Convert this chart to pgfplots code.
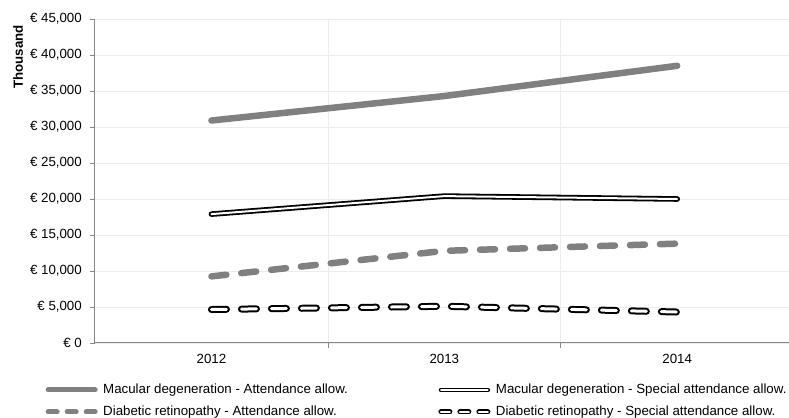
\documentclass[border=0pt]{standalone}
\usepackage{fontspec}
\setmainfont{Liberation Sans}
\usepackage{pgfplots}
\pgfplotsset{compat=1.18}
\definecolor{linegray}{RGB}{128,128,128}
\definecolor{axisgray}{RGB}{134,134,134}
\definecolor{gridgray}{RGB}{236,236,236}
\begin{document}
\fontsize{13.3bp}{15bp}\selectfont
\begin{tikzpicture}[font=\fontsize{13.3bp}{15bp}\selectfont]
\begin{axis}[
  name=ax,
  scale only axis, width=694bp, height=324bp,
  xmin=-0.5, xmax=2.48, ymin=0, ymax=45000,
  axis lines*=left,
  tick align=outside,
  xtick={0.5,1.5}, xticklabels={}, xmajorgrids,
  extra x ticks={0,1,2}, extra x tick labels={2012,2013,2014},
  extra x tick style={major tick length=0pt, xmajorgrids=false},
  ytick={0,5000,10000,15000,20000,25000,30000,35000,40000,45000},
  ymajorgrids,
  major tick length=5bp,
  tick style={axisgray, line width=0.75bp},
  grid style={gridgray, line width=0.75bp},
  axis line style={axisgray, line width=1bp},
  scaled y ticks=false,
  /pgf/number format/1000 sep={,},
  /pgf/number format/assume math mode=true,
  yticklabel={€ \pgfmathprintnumber{\tick}},
  yticklabel style={anchor=east, inner sep=0pt, xshift=-8bp},
  xticklabel style={anchor=north, inner sep=0pt, yshift=-11bp},
  legend columns=2,
  legend cell align=left,
  legend style={at={(rel axis cs:0,0)}, anchor=north west, xshift=-52bp, yshift=-39bp,
    draw=none, fill=none, inner sep=0pt, row sep=6.5bp,
    nodes={inner sep=1bp, text height=10bp, text depth=3.5bp},
    /tikz/every odd column/.append style={column sep=2bp},
    /tikz/every even column/.append style={column sep=87bp}},
  legend image code/.code={\draw[#1, shorten <=2.5bp, shorten >=2.5bp] (0bp,0bp) -- (52bp,0bp);},
]
\addplot[linegray, line width=6.5bp, line cap=round, line join=round, mark=none,
  legend image post style={line width=5bp}]
  coordinates {(0,30900) (1,34300) (2,38500)};
\addlegendentry{Macular degeneration - Attendance allow.}
\addplot[black, line width=1.8bp, double=white, double distance=2bp, line cap=round, line join=round, mark=none,
  legend image post style={line width=1.5bp, double distance=1.5bp}]
  coordinates {(0,17900) (1,20400) (2,20000)};
\addlegendentry{Macular degeneration - Special attendance allow.}
\addplot[linegray, line width=6.5bp, line cap=round, line join=round, mark=none, dash pattern=on 15bp off 15bp,
  legend image post style={line width=5bp, dash pattern=on 9bp off 10bp}]
  coordinates {(0,9250) (1,12800) (2,13800)};
\addlegendentry{Diabetic retinopathy - Attendance allow.}
\addplot[black, line width=2bp, double=white, double distance=3bp, line cap=round, line join=round, mark=none, dash pattern=on 15bp off 15bp,
  legend image post style={line width=1.5bp, double distance=2bp, dash pattern=on 9bp off 10bp}]
  coordinates {(0,4650) (1,5100) (2,4300)};
\addlegendentry{Diabetic retinopathy - Special attendance allow.}
\end{axis}
\node[rotate=90, anchor=east, inner sep=0pt, font=\fontsize{13.3bp}{15bp}\selectfont\bfseries]
  at ([xshift=-77bp,yshift=-6bp]ax.north west) {Thousand};
\pgfresetboundingbox
\path[use as bounding box] ([xshift=-95bp,yshift=-75bp]ax.south west) rectangle ([yshift=19bp]ax.north east);
\end{tikzpicture}
\end{document}
